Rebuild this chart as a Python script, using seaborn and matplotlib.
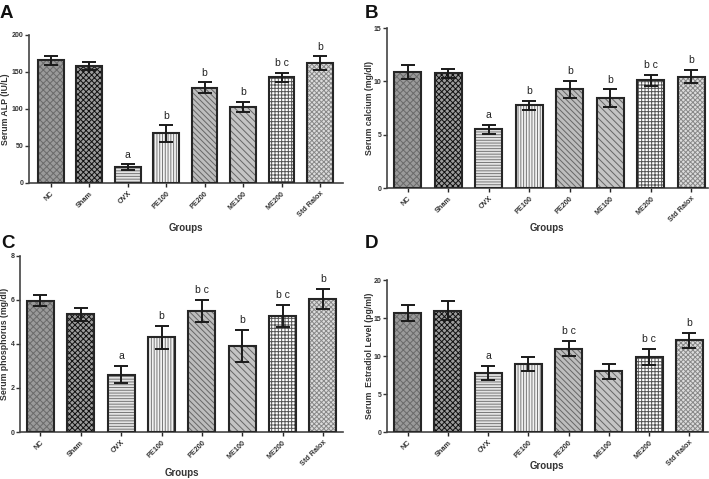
import matplotlib
matplotlib.use("Agg")
import matplotlib.pyplot as plt
import seaborn as sns
import pandas as pd
import numpy as np

groups = ["NC", "Sham", "OVX", "PE100", "PE200", "ME100", "ME200", "Std Ralox"]

alp_mean = [166, 158, 21, 67, 129, 103, 143, 162]
alp_err = [6, 6, 4, 11, 7, 7, 6, 9]
alp_sig = ["", "", "a", "b", "b", "b", "b c", "b"]

ca_mean = [10.9, 10.75, 5.5, 7.75, 9.25, 8.4, 10.1, 10.45]
ca_err = [0.65, 0.45, 0.45, 0.4, 0.8, 0.85, 0.5, 0.6]
ca_sig = ["", "", "a", "b", "b", "b", "b c", "b"]

p_mean = [5.95, 5.35, 2.6, 4.3, 5.5, 3.9, 5.25, 6.05]
p_err = [0.25, 0.3, 0.38, 0.52, 0.5, 0.72, 0.5, 0.45]
p_sig = ["", "", "a", "b", "b c", "b", "b c", "b"]

e2_mean = [15.7, 16.0, 7.8, 9.0, 11.0, 8.0, 9.9, 12.1]
e2_err = [1.1, 1.2, 0.9, 0.9, 1.0, 0.95, 1.05, 1.0]
e2_sig = ["", "", "a", "", "b c", "", "b c", "b"]

sns.set_theme(style="white")
plt.rcParams["font.family"] = ["Liberation Sans", "DejaVu Sans"]
plt.rcParams["hatch.linewidth"] = 0.7

faces = ["#9a9a9a", "#9c9c9c", "#e4e4e4", "#f2f2f2", "#bdbdbd", "#c4c4c4", "#ffffff", "#dcdcdc"]
hatches = ["xxxxx", "xxxxxx", "------", "||||||", "\\\\\\\\\\\\", "\\\\\\\\\\", "+++++", "xxxxxxx"]
hcolors = ["#6a6a6a", "#111111", "#777777", "#777777", "#666666", "#666666", "#555555", "#888888"]

fig = plt.figure(figsize=(7.09, 4.79), dpi=100)

# letter, rect, data..., ylabel, ylim, yticks, xlim, letter pos, ylabel x, xlabel y
panels = [
    ("A", [0.041, 0.618, 0.443, 0.309], alp_mean, alp_err, alp_sig, "Serum ALP (IU/L)", (0, 200), [0, 50, 100, 150, 200], (-0.56, 7.6), (0.0, 0.962), -0.062, -0.27),
    ("B", [0.546, 0.6075, 0.452, 0.334], ca_mean, ca_err, ca_sig, "Serum calcium (mg/dl)", (0, 15), [0, 5, 10, 15], (-0.51, 7.4), (0.514, 0.962), -0.042, -0.22),
    ("C", [0.028, 0.098, 0.456, 0.368], p_mean, p_err, p_sig, "Serum phosphorus (mg/dl)", (0, 8), [0, 2, 4, 6, 8], (-0.51, 7.5), (0.002, 0.482), -0.033, -0.205),
    ("D", [0.546, 0.098, 0.452, 0.317], e2_mean, e2_err, e2_sig, "Serum  Estradiol Level (pg/ml)", (0, 20), [0, 5, 10, 15, 20], (-0.51, 7.45), (0.514, 0.482), -0.042, -0.19),
]

for letter, rect, mean, err, sig, ylab, ylim, yticks, xlim, lpos, ylx, xly in panels:
    ax = fig.add_axes(rect)
    df = pd.DataFrame({"Group": groups, "Value": mean, "Err": err})
    sns.barplot(data=df, x="Group", y="Value", order=groups, errorbar=None,
                width=0.67, ax=ax, color="white", edgecolor="#222222", linewidth=1.4)
    for i, patch in enumerate(ax.patches):
        patch.set_facecolor(faces[i])
        patch.set_hatch(hatches[i])
        patch.set_edgecolor(hcolors[i])
        patch.set_linewidth(0)
        x0, y0 = patch.get_x(), patch.get_y()
        w, h = patch.get_width(), patch.get_height()
        ax.add_patch(plt.Rectangle((x0, y0), w, h, fill=False, edgecolor="#262626", linewidth=1.5, zorder=3))
    xs = np.arange(len(groups))
    ax.errorbar(xs, mean, yerr=err, fmt="none", ecolor="#1a1a1a", elinewidth=1.4,
                capsize=4.8, capthick=1.4, zorder=4)
    span = ylim[1] - ylim[0]
    for i, s in enumerate(sig):
        if s:
            ax.text(xs[i], mean[i] + err[i] + span * 0.03, s, ha="center", va="bottom",
                    fontsize=7.5, color="#222222")
    ax.set_ylim(*ylim)
    ax.set_xlim(*xlim)
    ax.set_yticks(yticks)
    ax.set_xticks(xs)
    ax.set_xticklabels(groups, rotation=45, ha="right", rotation_mode="anchor",
                       fontsize=5.2, fontweight="bold", color="#333333")
    ax.tick_params(axis="y", labelsize=5, colors="#333333", length=3, width=1, direction="out", left=True, pad=1)
    ax.tick_params(axis="x", length=3, width=1, direction="out", bottom=True, pad=2)
    for lbl in ax.get_yticklabels():
        lbl.set_fontweight("bold")
    ax.set_ylabel(ylab, fontsize=6.3, fontweight="bold", color="#333333")
    ax.yaxis.set_label_coords(ylx, 0.5)
    ax.set_xlabel("Groups", fontsize=7, fontweight="bold", color="#333333")
    ax.xaxis.set_label_coords(0.5, xly)
    sns.despine(ax=ax)
    for sp in ["left", "bottom"]:
        ax.spines[sp].set_linewidth(1.2)
        ax.spines[sp].set_color("#444444")
    fig.text(lpos[0], lpos[1], letter, fontsize=13.5, fontweight="bold", ha="left", va="baseline", color="#111111")

fig.savefig("out.png", dpi=100)
